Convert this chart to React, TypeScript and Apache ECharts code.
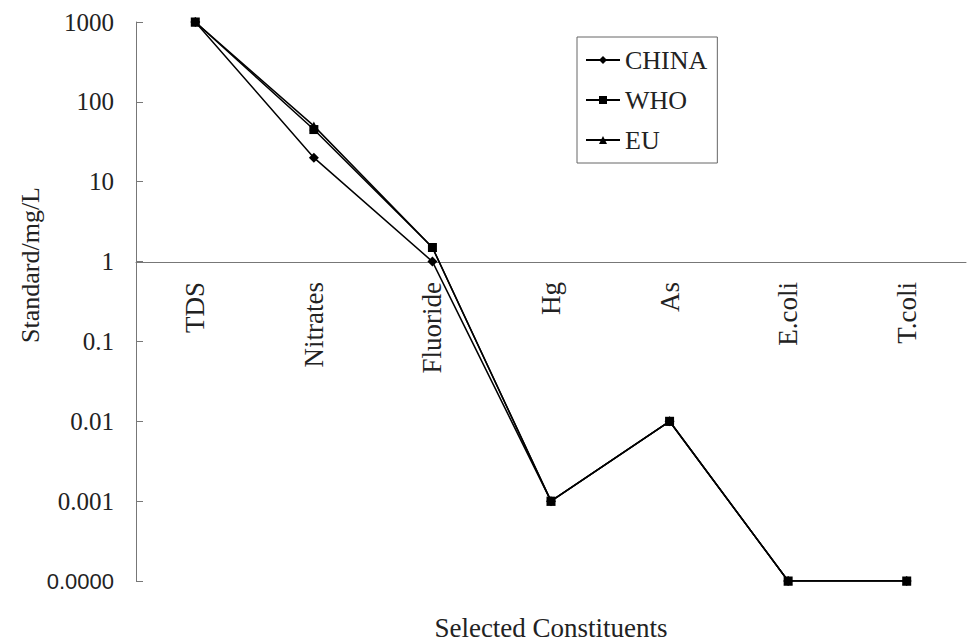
import React, { useEffect, useRef } from "react";
import * as echarts from "echarts";

const categories = ["TDS", "Nitrates", "Fluoride", "Hg", "As", "E.coli", "T.coli"];
const chinaValues = [1000, 20, 1, 0.001, 0.01, 0.0001, 0.0001];
const whoValues = [1000, 45, 1.5, 0.001, 0.01, 0.0001, 0.0001];
const euValues = [1000, 50, 1.5, 0.001, 0.01, 0.0001, 0.0001];
const seriesNames = ["CHINA", "WHO", "EU"];

const SERIF = "'Liberation Serif', 'DejaVu Serif', serif";
const SANS = "'Liberation Sans', Arial, sans-serif";

export default function App() {
  const ref = useRef<HTMLDivElement>(null);
  useEffect(() => {
    if (!ref.current) return;
    const chart = echarts.init(ref.current, null, { renderer: "svg" });
    const lineStyle = { color: "#000", width: 1.5 };
    chart.setOption({
      animation: false,
      backgroundColor: "#fff",
      grid: { left: 136, right: 2, top: 22, bottom: 63, containLabel: false },
      legend: {
        orient: "vertical",
        left: 577,
        top: 37,
        padding: [10, 10, 10, 8],
        itemGap: 14,
        itemWidth: 34,
        itemHeight: 10,
        borderColor: "#666",
        borderWidth: 1,
        textStyle: { fontFamily: SERIF, fontSize: 26, color: "#222" },
        data: seriesNames,
      },
      xAxis: {
        type: "category",
        data: categories,
        boundaryGap: true,
        offset: -319,
        axisLine: { lineStyle: { color: "#777", width: 1 } },
        axisTick: { inside: true, length: 7, lineStyle: { color: "#777" } },
        axisLabel: {
          rotate: 90,
          margin: 20,
          fontFamily: SERIF,
          fontSize: 27,
          color: "#222",
          interval: 0,
        },
      },
      yAxis: {
        type: "log",
        logBase: 10,
        min: 0.0001,
        max: 1000,
        interval: 1,
        splitLine: { show: false },
        axisLine: { show: true, lineStyle: { color: "#777", width: 1 } },
        axisTick: { show: true, inside: true, length: 7, lineStyle: { color: "#777" } },
        axisLabel: {
          margin: 22,
          fontFamily: SERIF,
          fontSize: 25,
          color: "#222",
          formatter: (v: number) => {
            const e = Math.round(Math.log10(v));
            if (e <= -4) return "{s|0.0000}";
            if (e >= 0) return String(Math.pow(10, e));
            return Math.pow(10, e).toFixed(-e);
          },
          rich: { s: { fontFamily: SANS, fontSize: 22, color: "#222" } },
        },
      },
      graphic: [
        {
          type: "text",
          x: 551,
          y: 628,
          style: {
            text: "Selected Constituents",
            fontFamily: SERIF,
            fontSize: 27,
            fill: "#222",
            align: "center",
            verticalAlign: "middle",
          },
        },
        {
          type: "text",
          x: 30,
          y: 265,
          rotation: Math.PI / 2,
          style: {
            text: "Standard/mg/L",
            fontFamily: SERIF,
            fontSize: 26,
            fill: "#222",
            align: "center",
            verticalAlign: "middle",
          },
        },
      ],
      series: [
        {
          name: "CHINA",
          type: "line",
          data: chinaValues,
          symbol: "diamond",
          symbolSize: 10,
          lineStyle,
          itemStyle: { color: "#000" },
          z: 2,
        },
        {
          name: "WHO",
          type: "line",
          data: whoValues,
          symbol: "rect",
          symbolSize: 9,
          lineStyle,
          itemStyle: { color: "#000" },
          z: 4,
        },
        {
          name: "EU",
          type: "line",
          data: euValues,
          symbol: "triangle",
          symbolSize: 9,
          lineStyle,
          itemStyle: { color: "#000" },
          z: 3,
        },
      ],
    });
    return () => chart.dispose();
  }, []);
  return <div ref={ref} style={{ width: 968, height: 644, position: "absolute", left: 0, top: 0 }} />;
}
